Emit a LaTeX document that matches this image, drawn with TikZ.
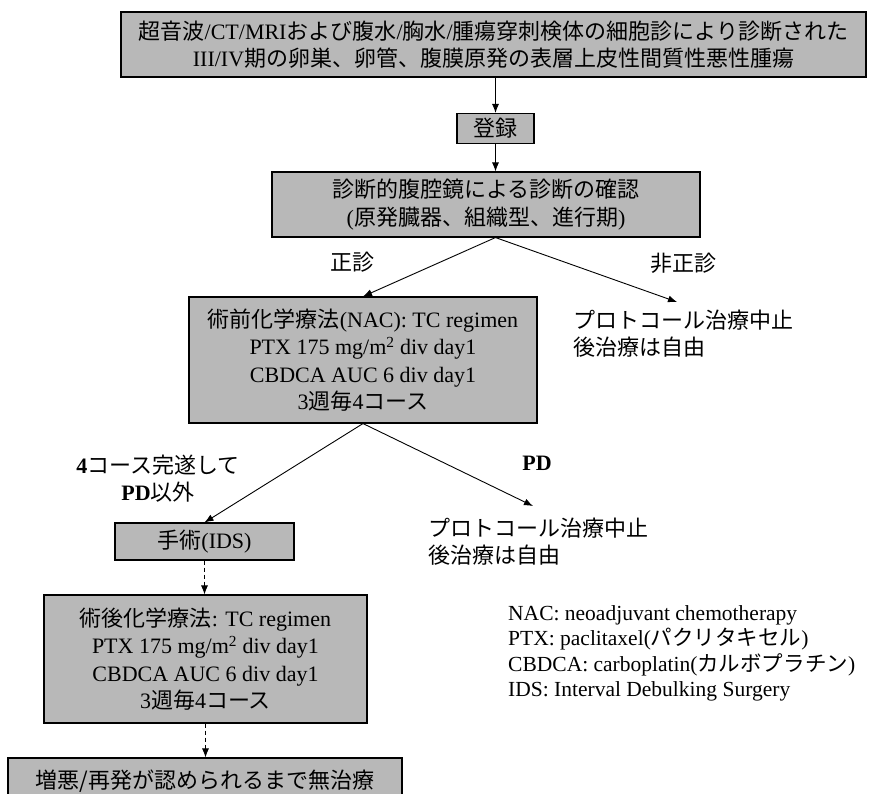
\documentclass[tikz,border=0pt]{standalone}
\usepackage{fontspec}
\setmainfont{Liberation Serif}
\newfontfamily\jp{Noto Sans CJK JP}
\usetikzlibrary{arrows.meta}
\begin{document}
\begin{tikzpicture}[x=1pt,y=-1pt,
  box/.style={draw=black, line width=1.1pt, fill=black!28, inner sep=0pt, align=center, font=\fontsize{22}{27.5}\selectfont},
  lbl/.style={inner sep=0pt, align=center, font=\fontsize{22}{27}\selectfont},
  arr/.style={-{Latex[length=9pt,width=7pt]}, line width=0.9pt},
  darr/.style={arr, dash pattern=on 4pt off 3pt}]
\useasboundingbox (0,0) rectangle (869,793);
\node[box, minimum width=745pt, minimum height=65pt] (b1) at (493.5,44.5)
  {{\jp 超音波}/CT/MRI{\jp および腹水}/{\jp 胸水}/{\jp 腫瘍穿刺検体の細胞診により診断された}\\III/IV{\jp 期の卵巣、卵管、腹膜原発の表層上皮性間質性悪性腫瘍}};
\node[box, minimum width=77pt, minimum height=30pt] (reg) at (495.5,128.5) {{\jp 登録}};
\node[box, minimum width=428pt, minimum height=65pt] (b3) at (486,204.5)
  {{\jp 診断的腹腔鏡による診断の確認}\\({\jp 原発臓器、組織型、進行期})};
\node[box, minimum width=348pt, minimum height=126pt] (b4) at (363,360)
  {{\jp 術前化学療法}(NAC): TC regimen\\PTX 175 mg/m\textsuperscript{2} div day1\\CBDCA AUC 6 div day1\\3{\jp 週毎}4{\jp コース}};
\node[box, minimum width=179pt, minimum height=37pt] (ids) at (204.5,541.5) {{\jp 手術}(IDS)};
\node[box, minimum width=323pt, minimum height=128pt] (b6) at (205.5,659)
  {{\jp 術後化学療法}: TC regimen\\PTX 175 mg/m\textsuperscript{2} div day1\\CBDCA AUC 6 div day1\\3{\jp 週毎}4{\jp コース}};
\node[box, minimum width=394pt, minimum height=46pt] (b7) at (205,781) {{\jp 増悪/再発が認められるまで無治療}};

\node[lbl] (l1) at (352,262) {{\jp 正診}};
\node[lbl] (l2) at (683,263) {{\jp 非正診}};
\node[lbl, anchor=west, align=left] (s1) at (573,333.5) {{\jp プロトコール治療中止}\\{\jp 後治療は自由}};
\node[lbl] (l3) at (158,479) {\textbf{4}{\jp コース完遂して}\\\textbf{PD}{\jp 以外}};
\node[lbl] (l4) at (537,463) {\textbf{PD}};
\node[lbl, anchor=west, align=left] (s2) at (428,541.5) {{\jp プロトコール治療中止}\\{\jp 後治療は自由}};
\node[lbl, anchor=west, align=left, font=\fontsize{21.5}{25.5}\selectfont] (leg) at (508,653.5)
  {NAC: neoadjuvant chemotherapy\\PTX: paclitaxel({\jp パクリタキセル})\\CBDCA: carboplatin({\jp カルボプラチン})\\IDS: Interval Debulking Surgery};

\coordinate (t1) at (677,302);
\coordinate (t2) at (533,506);
\draw[arr] (b1.south -| reg) -- (reg.north);
\draw[arr] (reg.south) -- (reg.south |- b3.north);
\draw[arr] (b3.south -| reg) -- (b4.north);
\draw[arr] (b3.south -| reg) -- (t1);
\draw[arr] (b4.south) -- (ids.north);
\draw[arr] (b4.south) -- (t2);
\draw[darr] (ids.south) -- (ids.south |- b6.north);
\draw[darr] (b6.south) -- (b6.south |- b7.north);
\end{tikzpicture}
\end{document}
